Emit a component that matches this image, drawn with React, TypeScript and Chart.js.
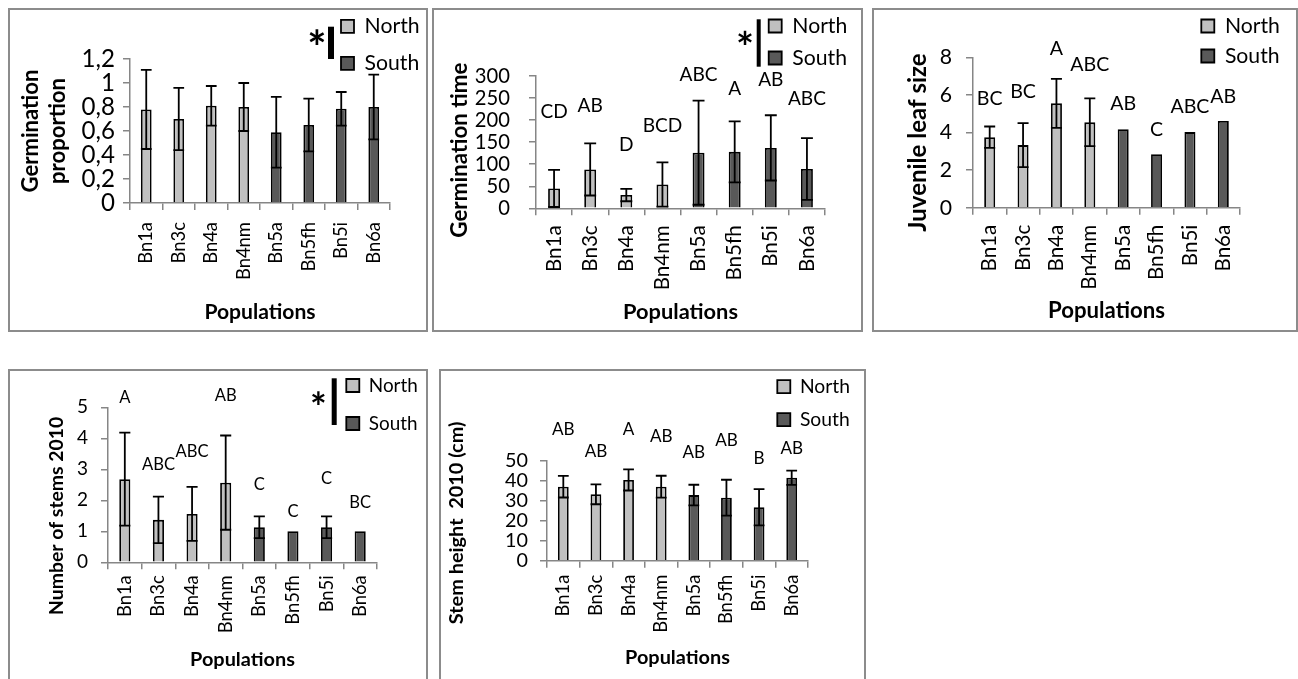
import React, { useEffect, useRef } from 'react';
import { Chart, registerables } from 'chart.js';

Chart.register(...registerables);
Chart.defaults.color = '#000';
Chart.defaults.font.family = 'Lato';

const FONT = 'Lato';
const NORTH_COLOR = '#c0c0c0';
const SOUTH_COLOR = '#595959';
const AXIS_COLOR = '#868686';

// ---------- data ----------
const populations = ['Bn1a', 'Bn3c', 'Bn4a', 'Bn4nm', 'Bn5a', 'Bn5fh', 'Bn5i', 'Bn6a'];
const regions = ['North', 'North', 'North', 'North', 'South', 'South', 'South', 'South'];
const regionNames = ['North', 'South'];

const germPropMean = [0.78, 0.70, 0.81, 0.80, 0.59, 0.65, 0.785, 0.80];
const germPropErr = [0.33, 0.26, 0.165, 0.20, 0.295, 0.22, 0.14, 0.27];
const germPropLetters: string[] = [];
const germPropLetterAt: number[] = [];

const germTimeMean = [45, 88, 30, 54, 126, 128, 137, 89];
const germTimeErr = [42, 59, 14, 50, 118, 69, 74, 70];
const germTimeLetters = ['CD', 'AB', 'D', 'BCD', 'ABC', 'A', 'AB', 'ABC'];
const germTimeLetterAt = [219, 232, 144, 187, 302, 270, 291, 248];

const leafMean = [3.75, 3.33, 5.55, 4.54, 4.17, 2.84, 4.02, 4.61];
const leafErr = [0.57, 1.17, 1.3, 1.27, null, null, null, null];
const leafLetters = ['BC', 'BC', 'A', 'ABC', 'AB', 'C', 'ABC', 'AB'];
const leafLetterAt = [5.78, 6.17, 8.48, 7.59, 5.51, 4.13, 5.37, 5.9];

const stemsMean = [2.68, 1.37, 1.56, 2.57, 1.13, 1.0, 1.13, 1.0];
const stemsErr = [1.5, 0.75, 0.87, 1.52, 0.35, null, 0.35, null];
const stemsLetters = ['A', 'ABC', 'ABC', 'AB', 'C', 'C', 'C', 'BC'];
const stemsLetterAt = [5.31, 3.16, 3.56, 5.38, 2.49, 1.63, 2.69, 1.94];

const heightMean = [37.1, 33.3, 40.5, 37.1, 32.9, 31.6, 26.8, 41.6];
const heightErr = [5.4, 5.0, 5.3, 5.5, 5.2, 9.0, 9.1, 3.6];
const heightLetters = ['AB', 'AB', 'A', 'AB', 'AB', 'AB', 'B', 'AB'];
const heightLetterAt = [66, 54.7, 65.6, 62.5, 54.2, 60.5, 51.3, 56.4];

// ---------- panel layout / style ----------
type Star = { x: number; y: number; w: number; barX: number; barW: number; top: number; bottom: number };
type Fit = { yTitle: number; xTitle: number; xTick: number; yTick: number; legend: number; letters: number };
type PanelCfg = {
  box: [number, number, number, number];
  area: { left: number; right: number; top: number; bottom: number };
  mean: number[];
  err: (number | null)[];
  letters: string[];
  letterAt: number[];
  yMax: number;
  yStep: number;
  comma?: boolean;
  yTitle: string | string[];
  yTitleBase: number;
  yTitleGap: number;
  yTitleShift: number;
  tickGap: number;
  xLabelPad: number;
  xTitleBase: number;
  legendX: number;
  legendY: number;
  legendSpacing: number;
  fit: Fit;
  star?: Star;
};

const panels: PanelCfg[] = [
  {
    box: [8, 8, 420, 324],
    area: { left: 120, right: 380, top: 49, bottom: 193 },
    mean: germPropMean, err: germPropErr, letters: germPropLetters, letterAt: germPropLetterAt,
    yMax: 1.2, yStep: 0.2, comma: true,
    yTitle: ['Germination', 'proportion'], yTitleBase: 28.3, yTitleGap: 26.7, yTitleShift: 0,
    tickGap: 15, xLabelPad: 12, xTitleBase: 309,
    legendX: 331, legendY: 16.3, legendSpacing: 37,
    fit: { yTitle: 123, xTitle: 111, xTick: 58, yTick: 14, legend: 55, letters: 38 },
    star: { x: 307, y: 26.7, w: 15, barX: 318, barW: 6, top: 16.7, bottom: 49 },
  },
  {
    box: [432, 8, 431, 324],
    area: { left: 102, right: 391, top: 66, bottom: 198.3 },
    mean: germTimeMean, err: germTimeErr, letters: germTimeLetters, letterAt: germTimeLetterAt,
    yMax: 300, yStep: 50,
    yTitle: 'Germination time', yTitleBase: 32.7, yTitleGap: 0, yTitleShift: 8,
    tickGap: 26, xLabelPad: 10, xTitleBase: 309.3,
    legendX: 334.7, legendY: 16, legendSpacing: 32,
    fit: { yTitle: 175, xTitle: 115, xTick: 65, yTick: 11.7, legend: 55, letters: 38 },
    star: { x: 311, y: 27.3, w: 14, barX: 322.7, barW: 4, top: 9.3, bottom: 56.7 },
  },
  {
    box: [872, 8, 426, 324],
    area: { left: 99, right: 366, top: 47.3, bottom: 197.7 },
    mean: leafMean, err: leafErr, letters: leafLetters, letterAt: leafLetterAt,
    yMax: 8, yStep: 2,
    yTitle: 'Juvenile leaf size', yTitleBase: 52, yTitleGap: 0, yTitleShift: 10,
    tickGap: 21, xLabelPad: 10, xTitleBase: 308.3,
    legendX: 327.3, legendY: 16, legendSpacing: 30,
    fit: { yTitle: 178, xTitle: 117, xTick: 65, yTick: 12.3, legend: 55, letters: 39 },
  },
  {
    box: [8, 369, 420, 324],
    area: { left: 98, right: 367, top: 36.3, bottom: 191.3 },
    mean: stemsMean, err: stemsErr, letters: stemsLetters, letterAt: stemsLetterAt,
    yMax: 5, yStep: 1,
    yTitle: 'Number of stems 2010', yTitleBase: 53.3, yTitleGap: 0, yTitleShift: 31,
    tickGap: 20, xLabelPad: 6, xTitleBase: 295,
    legendX: 336.3, legendY: 14.5, legendSpacing: 38,
    fit: { yTitle: 198, xTitle: 105, xTick: 58, yTick: 11, legend: 49, letters: 33 },
    star: { x: 308.3, y: 27.3, w: 13, barX: 321.7, barW: 5, top: 7.3, bottom: 54 },
  },
  {
    box: [439, 369, 427, 324],
    area: { left: 106, right: 367, top: 90, bottom: 189.7 },
    mean: heightMean, err: heightErr, letters: heightLetters, letterAt: heightLetterAt,
    yMax: 50, yStep: 10,
    yTitle: 'Stem height  2010 (cm)', yTitleBase: 21.5, yTitleGap: 0, yTitleShift: 12,
    tickGap: 19, xLabelPad: 7, xTitleBase: 293.3,
    legendX: 336.3, legendY: 15.7, legendSpacing: 33,
    fit: { yTitle: 203, xTitle: 105, xTick: 58, yTick: 11.5, legend: 50, letters: 34 },
  },
];

const TICK_LEN = 7;
const BOX = 13;
const LINE_W = 1.8;

// font size (px) so that `text` is `target` px wide
const measureCtx = document.createElement('canvas').getContext('2d') as CanvasRenderingContext2D;
function fitSize(text: string, weight: string, target: number): number {
  measureCtx.font = `${weight} 100px ${FONT}`;
  const w = measureCtx.measureText(text).width;
  return Math.round(((100 * target) / w) * 10) / 10;
}
// distance from the 'middle' line to the alphabetic baseline, for a font size
function midToBase(weight: string, size: number): number {
  measureCtx.font = `${weight} ${size}px ${FONT}`;
  measureCtx.textBaseline = 'middle';
  const m: any = measureCtx.measureText('Hg');
  measureCtx.textBaseline = 'alphabetic';
  if (typeof m.alphabeticBaseline === 'number' && m.alphabeticBaseline !== 0) return Math.abs(m.alphabeticBaseline);
  return 0.387 * size;
}

function overlayPlugin(cfg: PanelCfg, sizes: { legend: number; letters: number }) {
  return {
    id: 'overlay',
    afterLayout(chart: any) {
      const lg = chart.legend;
      if (!lg) return;
      const itemH = Math.max(sizes.legend, BOX);
      const pad = cfg.legendSpacing - itemH;
      lg.left = cfg.legendX - pad;
      lg.top = cfg.legendY - itemH / 2 - pad;
      lg.width = 160;
      lg.height = 200;
      lg.right = lg.left + lg.width;
      lg.bottom = lg.top + lg.height;
    },
    afterDatasetsDraw(chart: any) {
      const ctx = chart.ctx;
      const xs = chart.scales.x;
      const ys = chart.scales.y;
      ctx.save();
      ctx.strokeStyle = '#000';
      ctx.lineWidth = LINE_W;
      chart.data.datasets.forEach((ds: any, di: number) => {
        const meta = chart.getDatasetMeta(di);
        meta.data.forEach((bar: any, i: number) => {
          const v = ds.data[i];
          const e = cfg.err[i];
          if (v == null || e == null) return;
          const half = bar.width / 2;
          const yt = ys.getPixelForValue(v + e);
          const yb = ys.getPixelForValue(v - e);
          ctx.beginPath();
          ctx.moveTo(bar.x, yt);
          ctx.lineTo(bar.x, yb);
          ctx.moveTo(bar.x - half, yt);
          ctx.lineTo(bar.x + half, yt);
          ctx.moveTo(bar.x - half, yb);
          ctx.lineTo(bar.x + half, yb);
          ctx.stroke();
        });
      });
      ctx.fillStyle = '#000';
      ctx.font = `${sizes.letters}px ${FONT}`;
      ctx.textAlign = 'center';
      ctx.textBaseline = 'middle';
      cfg.letters.forEach((t, i) => {
        ctx.fillText(t, xs.getPixelForValue(i), ys.getPixelForValue(cfg.letterAt[i]));
      });
      const s = cfg.star;
      if (s) {
        ctx.fillRect(s.barX, s.top, s.barW, s.bottom - s.top);
        ctx.font = `bold 100px ${FONT}`;
        const m0 = ctx.measureText('*');
        const w0 = m0.actualBoundingBoxLeft + m0.actualBoundingBoxRight;
        const size = (100 * s.w) / w0;
        ctx.font = `bold ${size}px ${FONT}`;
        ctx.textAlign = 'center';
        ctx.textBaseline = 'alphabetic';
        const m = ctx.measureText('*');
        ctx.fillText('*', s.x, s.y + (m.actualBoundingBoxAscent - m.actualBoundingBoxDescent) / 2);
      }
      ctx.restore();
    },
  };
}

function Panel({ cfg }: { cfg: PanelCfg }) {
  const ref = useRef<HTMLCanvasElement>(null);
  const W = cfg.box[2] - 4;
  const H = cfg.box[3] - 4;
  useEffect(() => {
    const canvas = ref.current;
    if (!canvas) return;
    const a = cfg.area;
    const f = cfg.fit;
    const firstTitle = Array.isArray(cfg.yTitle) ? cfg.yTitle[0] : cfg.yTitle;
    const yTitleSize = fitSize(firstTitle, 'bold', f.yTitle);
    const xTitleSize = fitSize('Populations', 'bold', f.xTitle);
    const xTickSize = fitSize('Bn4nm', 'normal', f.xTick);
    const yTickSize = fitSize('0', 'normal', f.yTick);
    const legendSize = fitSize('North', 'normal', f.legend);
    const letterSize = fitSize('ABC', 'normal', f.letters);

    const yLH = cfg.yTitleGap > 0 ? cfg.yTitleGap / yTitleSize : 1.2;
    const yTitleMid = cfg.yTitleBase - midToBase('bold', yTitleSize);
    const yTitlePadTop = yTitleMid - (yTitleSize * yLH) / 2;
    const xTitleMid = cfg.xTitleBase - midToBase('bold', xTitleSize);
    const xTitlePadBottom = H - xTitleMid - (xTitleSize * 1.2) / 2;

    const datasets = regionNames.map((r) => ({
      label: r,
      data: cfg.mean.map((v, i) => (regions[i] === r ? v : null)),
      backgroundColor: r === 'North' ? NORTH_COLOR : SOUTH_COLOR,
      borderColor: '#000',
      borderWidth: LINE_W,
      grouped: false,
      categoryPercentage: 0.33,
      barPercentage: 1,
    }));
    const chart = new Chart(canvas, {
      type: 'bar',
      data: { labels: populations, datasets },
      options: {
        responsive: false,
        animation: false,
        devicePixelRatio: 1,
        layout: { padding: { top: a.top, right: W - a.right, left: 0, bottom: 0 } },
        plugins: {
          tooltip: { enabled: false },
          legend: {
            position: 'chartArea',
            align: 'start',
            labels: {
              boxWidth: BOX,
              boxHeight: BOX,
              padding: cfg.legendSpacing - Math.max(legendSize, BOX),
              color: '#000',
              font: { family: FONT, size: legendSize },
            },
          },
        },
        scales: {
          x: {
            offset: true,
            grid: {
              display: true,
              drawOnChartArea: false,
              drawTicks: true,
              tickLength: TICK_LEN,
              color: AXIS_COLOR,
              lineWidth: 1.5,
              offset: true,
            },
            border: { display: true, color: AXIS_COLOR, width: 1.5 },
            ticks: {
              minRotation: 90,
              maxRotation: 90,
              autoSkip: false,
              padding: cfg.xLabelPad,
              color: '#000',
              font: { family: FONT, size: xTickSize },
            },
            title: {
              display: true,
              text: 'Populations',
              color: '#000',
              font: { family: FONT, size: xTitleSize, weight: 'bold', lineHeight: 1.2 },
              padding: { top: 0, bottom: xTitlePadBottom },
            },
            afterFit: (s: any) => {
              s.height = H - a.bottom;
            },
          },
          y: {
            min: 0,
            max: cfg.yMax,
            grid: {
              drawOnChartArea: false,
              drawTicks: true,
              tickLength: TICK_LEN,
              color: AXIS_COLOR,
              lineWidth: 1.5,
            },
            border: { display: true, color: AXIS_COLOR, width: 1.5 },
            ticks: {
              stepSize: cfg.yStep,
              autoSkip: false,
              padding: cfg.tickGap - TICK_LEN,
              color: '#000',
              font: { family: FONT, size: yTickSize },
              callback: (v: any) => {
                const s = String(Math.round(Number(v) * 10) / 10);
                return cfg.comma ? s.replace('.', ',') : s;
              },
            },
            title: {
              display: true,
              text: cfg.yTitle,
              color: '#000',
              font: { family: FONT, size: yTitleSize, weight: 'bold', lineHeight: yLH },
              padding: { top: yTitlePadTop, bottom: 0 },
            },
            afterFit: (s: any) => {
              s.width = a.left;
              if (!s.__titleShifted) {
                s.__titleShifted = true;
                const orig = s.drawTitle;
                s.drawTitle = function (this: any, ...args: any[]) {
                  const t = this.top;
                  const b = this.bottom;
                  this.top = t + cfg.yTitleShift;
                  this.bottom = b + cfg.yTitleShift;
                  try {
                    orig.apply(this, args);
                  } finally {
                    this.top = t;
                    this.bottom = b;
                  }
                };
              }
            },
          },
        },
      } as any,
      plugins: [overlayPlugin(cfg, { legend: legendSize, letters: letterSize })],
    });
    return () => chart.destroy();
  }, []);
  const [left, top, w, h] = cfg.box;
  return (
    <div
      style={{
        position: 'absolute',
        left,
        top,
        width: w,
        height: h,
        boxSizing: 'border-box',
        border: '2px solid #8c8c8c',
        background: '#fff',
      }}
    >
      <canvas ref={ref} width={W} height={H} style={{ display: 'block', width: W, height: H }} />
    </div>
  );
}

export default function App() {
  return (
    <div
      style={{
        position: 'fixed',
        left: 0,
        top: 0,
        width: 1298,
        height: 679,
        overflow: 'hidden',
        background: '#fff',
      }}
    >
      {panels.map((p, i) => (
        <Panel key={i} cfg={p} />
      ))}
    </div>
  );
}
